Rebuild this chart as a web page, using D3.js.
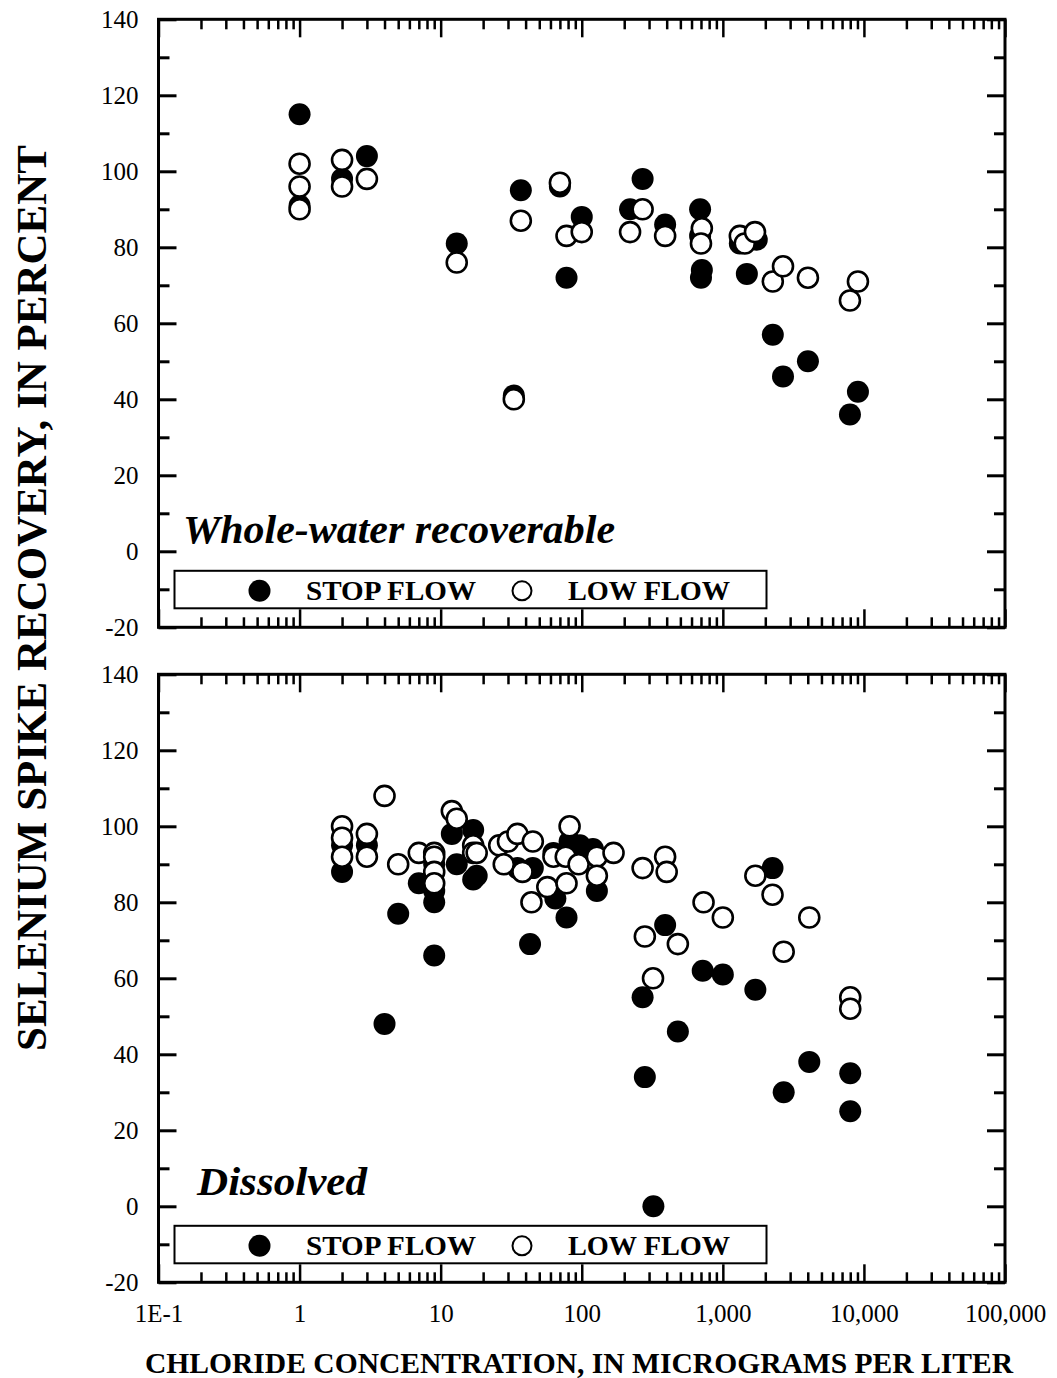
<!DOCTYPE html>
<html>
<head>
<meta charset="utf-8">
<script src="https://cdn.jsdelivr.net/npm/d3@7"></script>
<style>
  body { margin: 0; background: #fff; }
  svg { display: block; font-family: "Liberation Serif", "Times New Roman", serif; }
</style>
</head>
<body>
<div id="chart"></div>
<script>
// x tick values / labels (log axis)
var xMajorTicks = [0.1, 1, 10, 100, 1000, 10000, 100000];
var xTickLabels = ["1E-1", "1", "10", "100", "1,000", "10,000", "100,000"];
var yTicks = [-20, 0, 20, 40, 60, 80, 100, 120, 140];
var yMinorTicks = [-10, 10, 30, 50, 70, 90, 110, 130];

// whole-water recoverable panel: [chloride, recovery]
var wholeStopFlow = [
  [1, 115], [1, 91], [2, 98], [3, 104], [13, 81], [33, 41], [37, 95], [70, 96],
  [78, 72], [100, 88], [220, 90], [270, 98], [390, 86], [690, 90], [690, 83],
  [710, 74], [700, 72], [1320, 81], [1740, 82], [1480, 73], [2260, 57],
  [2670, 46], [4010, 50], [9070, 42], [7960, 36]
];
var wholeLowFlow = [
  [1, 102], [1, 96], [1, 90], [2, 103], [2, 96], [3, 98], [13, 76], [33, 40],
  [37, 87], [70, 97], [78, 83], [100, 84], [220, 84], [270, 90], [390, 83],
  [710, 85], [700, 81], [1320, 83], [1430, 81], [1690, 84], [2260, 71],
  [2670, 75], [4010, 72], [9070, 71], [7960, 66]
];

// dissolved panel
var dissolvedStopFlow = [
  [2, 95], [2, 88], [3, 95], [4, 48], [5, 77], [7, 85], [9, 90], [9, 83], [9, 80],
  [9, 66], [12, 98], [13, 90], [17, 99], [17, 86], [18, 87], [35, 89], [43, 69],
  [45, 89], [63, 93], [65, 81], [78, 76], [82, 96], [97, 95], [120, 94], [128, 83],
  [270, 55], [280, 34], [322, 0], [390, 74], [480, 46], [720, 62], [1000, 61],
  [1700, 57], [2250, 89], [2700, 30], [4100, 38], [8000, 35], [8000, 25]
];
var dissolvedLowFlow = [
  [2, 100], [2, 97], [2, 92], [3, 98], [3, 92], [4, 108], [5, 90], [7, 93],
  [9, 93], [9, 92], [9, 88], [9, 85], [12, 104], [13, 102], [17, 95], [17, 93],
  [18, 93], [26, 95], [28, 90], [30, 96], [35, 98], [38, 88], [44, 80], [45, 96],
  [57, 84], [63, 92], [77, 92], [78, 85], [82, 100], [95, 90], [128, 92], [128, 87],
  [168, 93], [270, 89], [280, 71], [320, 60], [390, 92], [400, 88], [480, 69],
  [730, 80], [1000, 76], [1700, 87], [2250, 82], [2700, 67], [4100, 76],
  [8000, 55], [8000, 52]
];

function drawChart() {
  var width = 1057, height = 1378;
  var left = 158.5, right = 1005;
  var panelHeight = 608;

  var svg = d3.select("#chart").append("svg")
    .attr("width", width)
    .attr("height", height);

  var x = d3.scaleLog().domain([0.1, 100000]).range([left, right]);

  var xMinorTicks = [];
  for (var dec = 0.1; dec < 100000; dec *= 10) {
    for (var m = 2; m <= 9; m++) xMinorTicks.push(+(dec * m).toPrecision(3));
  }

  var panels = [
    { top: 19.3, stop: wholeStopFlow, low: wholeLowFlow, label: "Whole-water recoverable",
      labelX: 183, labelY: 523.5, labelLen: 432, showX: false },
    { top: 674.3, stop: dissolvedStopFlow, low: dissolvedLowFlow, label: "Dissolved",
      labelX: 197, labelY: 521, labelLen: 170, showX: true }
  ];

  panels.forEach(drawPanel);

  function styleAxis(g, w) {
    g.select(".domain").remove();
    g.selectAll(".tick line").attr("stroke", "#000").attr("stroke-width", w);
    g.selectAll(".tick text").attr("fill", "#000").style("font-size", "25px")
      .style("font-family", "'Liberation Serif', serif");
  }

  function drawPanel(p) {
    var bottom = p.top + panelHeight;
    var y = d3.scaleLinear().domain([-20, 140]).range([bottom, p.top]);

    // ticks: major and minor, inward on all four sides
    svg.append("g").attr("transform", "translate(0," + bottom + ")")
      .call(d3.axisBottom(x).tickValues(xMajorTicks).tickSize(-18).tickPadding(22)
        .tickFormat(function (d, i) { return p.showX ? xTickLabels[i] : ""; }))
      .call(styleAxis, 2.5);
    svg.append("g").attr("transform", "translate(0," + bottom + ")")
      .call(d3.axisBottom(x).tickValues(xMinorTicks).tickSize(-10).tickFormat(""))
      .call(styleAxis, 2.5);
    svg.append("g").attr("transform", "translate(0," + p.top + ")")
      .call(d3.axisTop(x).tickValues(xMajorTicks).tickSize(-18).tickFormat(""))
      .call(styleAxis, 2.5);
    svg.append("g").attr("transform", "translate(0," + p.top + ")")
      .call(d3.axisTop(x).tickValues(xMinorTicks).tickSize(-10).tickFormat(""))
      .call(styleAxis, 2.5);

    svg.append("g").attr("transform", "translate(" + left + ",0)")
      .call(d3.axisLeft(y).tickValues(yTicks).tickSize(-18).tickPadding(20)
        .tickFormat(function (d) { return String(d); }))
      .call(styleAxis, 3);
    svg.append("g").attr("transform", "translate(" + left + ",0)")
      .call(d3.axisLeft(y).tickValues(yMinorTicks).tickSize(-11).tickFormat(""))
      .call(styleAxis, 3);
    svg.append("g").attr("transform", "translate(" + right + ",0)")
      .call(d3.axisRight(y).tickValues(yTicks).tickSize(-18).tickFormat(""))
      .call(styleAxis, 3);
    svg.append("g").attr("transform", "translate(" + right + ",0)")
      .call(d3.axisRight(y).tickValues(yMinorTicks).tickSize(-11).tickFormat(""))
      .call(styleAxis, 3);

    // frame
    svg.append("rect")
      .attr("x", left).attr("y", p.top)
      .attr("width", right - left).attr("height", panelHeight)
      .attr("fill", "none").attr("stroke", "#000").attr("stroke-width", 3);

    // points: stop flow (filled) first, low flow (open) on top
    svg.append("g").selectAll("circle").data(p.stop).join("circle")
      .attr("cx", function (d) { return x(d[0]); })
      .attr("cy", function (d) { return y(d[1]); })
      .attr("r", 11)
      .attr("fill", "#000");
    svg.append("g").selectAll("circle").data(p.low).join("circle")
      .attr("cx", function (d) { return x(d[0]); })
      .attr("cy", function (d) { return y(d[1]); })
      .attr("r", 10)
      .attr("fill", "#fff")
      .attr("stroke", "#000")
      .attr("stroke-width", 2.6);

    // panel label
    svg.append("text")
      .attr("x", p.labelX).attr("y", p.top + p.labelY)
      .attr("textLength", p.labelLen).attr("lengthAdjust", "spacingAndGlyphs")
      .style("font-size", "40px").style("font-weight", "bold").style("font-style", "italic")
      .text(p.label);

    // legend
    var lg = svg.append("g").attr("transform", "translate(0," + p.top + ")");
    lg.append("rect")
      .attr("x", 174.5).attr("y", 551.5).attr("width", 592).attr("height", 37.5)
      .attr("fill", "#fff").attr("stroke", "#000").attr("stroke-width", 2);
    lg.append("circle").attr("cx", 259.5).attr("cy", 571.5).attr("r", 11).attr("fill", "#000");
    lg.append("circle").attr("cx", 522).attr("cy", 571.5).attr("r", 9.5)
      .attr("fill", "#fff").attr("stroke", "#000").attr("stroke-width", 2);
    lg.append("text").attr("x", 306).attr("y", 581).attr("textLength", 170)
      .attr("lengthAdjust", "spacingAndGlyphs")
      .style("font-size", "27px").style("font-weight", "bold").text("STOP FLOW");
    lg.append("text").attr("x", 568).attr("y", 581).attr("textLength", 162)
      .attr("lengthAdjust", "spacingAndGlyphs")
      .style("font-size", "27px").style("font-weight", "bold").text("LOW FLOW");
  }

  // axis titles
  svg.append("text")
    .attr("transform", "translate(46,598) rotate(-90)")
    .attr("text-anchor", "middle")
    .attr("textLength", 906).attr("lengthAdjust", "spacingAndGlyphs")
    .style("font-size", "42px").style("font-weight", "bold")
    .text("SELENIUM SPIKE RECOVERY, IN PERCENT");
  svg.append("text")
    .attr("x", 579).attr("y", 1373)
    .attr("text-anchor", "middle")
    .attr("textLength", 868).attr("lengthAdjust", "spacingAndGlyphs")
    .style("font-size", "29px").style("font-weight", "bold")
    .text("CHLORIDE CONCENTRATION, IN MICROGRAMS PER LITER");
}
drawChart();
</script>
</body>
</html>
